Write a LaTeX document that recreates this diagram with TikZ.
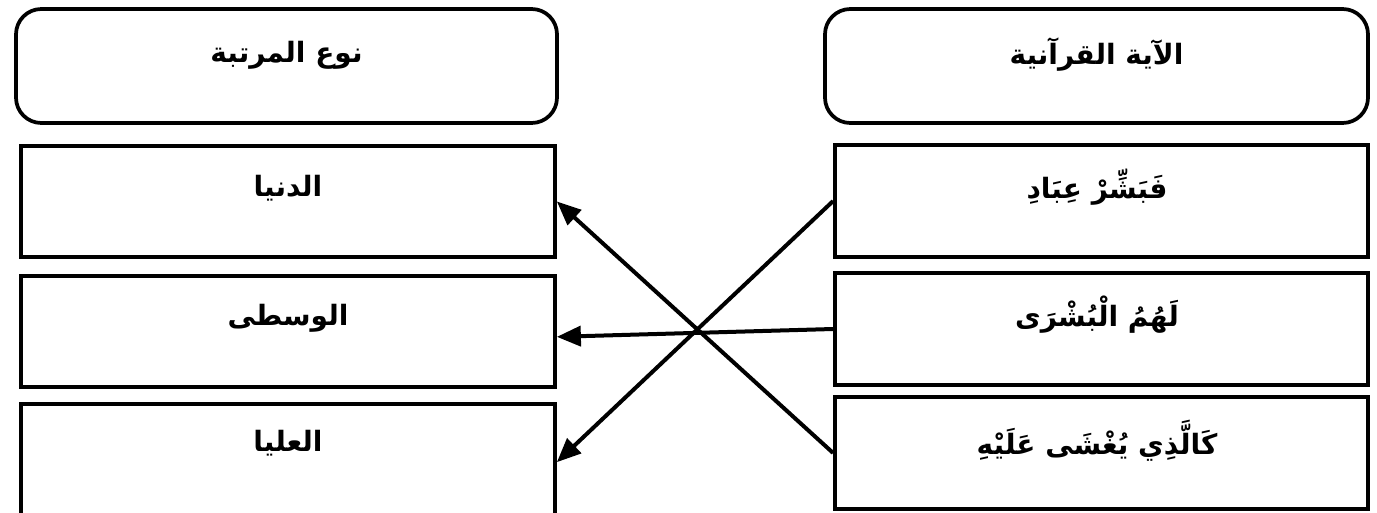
\documentclass[tikz,border=0pt]{standalone}
\usepackage{fontspec}
\usetikzlibrary{arrows.meta}
\TeXXeTstate=1
\newfontfamily\arabicfont[Script=Arabic]{DejaVu Sans}
\begin{document}
\begin{tikzpicture}[x=0.75pt,y=-0.75pt,
  headbox/.style={draw=black,line width=2.8pt,rounded corners=19pt,minimum width=#1,minimum height=85.5pt,inner sep=0pt},
  itembox/.style={draw=black,line width=2.8pt,minimum width=#1,minimum height=83.5pt,inner sep=0pt},
  lbl/.style={font=\arabicfont\bfseries\fontsize{21}{24}\selectfont,inner sep=0pt},
  link/.style={line width=3pt,-{Triangle[length=18pt,width=15pt]}}]
\useasboundingbox[fill=white] (0,0) rectangle (1377,513);
% header boxes
\node[headbox=405.75pt] (hl) at (286.5,66) {};
\node[headbox=407.25pt] (hr) at (1096.5,66) {};
\node[lbl] (thl) at (286.5,55) {\beginR نوع المرتبة\endR};
\node[lbl] (thr) at (1096.5,55) {\beginR الآية القرآنية\endR};
% left boxes
\node[itembox=400.5pt] (l1) at (288,201.5) {};
\node[itembox=400.5pt] (l2) at (288,331.5) {};
\node[itembox=400.5pt] (l3) at (288,459.5) {};
\node[lbl] (tl1) at (288,188) {\beginR الدنيا\endR};
\node[lbl] (tl2) at (288,318) {\beginR الوسطى\endR};
\node[lbl] (tl3) at (288,443) {\beginR العليا\endR};
% right boxes
\node[itembox=399.75pt] (r1) at (1101.5,201) {};
\node[itembox=399.75pt] (r2) at (1101.5,329) {};
\node[itembox=399.75pt] (r3) at (1101.5,453) {};
\node[lbl] (tr1) at (1097,187) {\beginR فَبَشِّرْ عِبَادِ\endR};
\node[lbl] (tr2) at (1097,315) {\beginR لَهُمُ الْبُشْرَى\endR};
\node[lbl] (tr3) at (1097,441) {\beginR كَالَّذِي يُغْشَى عَلَيْهِ\endR};
% connectors
\draw[link] (r1.west) -- ([yshift=-2pt]l3.east);
\draw[link] (r2.west) -- ([yshift=-4pt]l2.east);
\draw[link] (r3.west) -- (l1.east);
\end{tikzpicture}
\end{document}
